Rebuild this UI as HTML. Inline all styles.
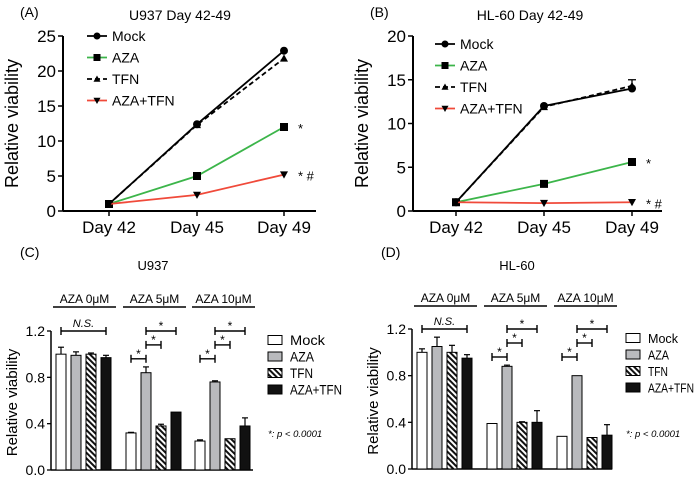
<!DOCTYPE html>
<html><head><meta charset="utf-8"><style>
html,body{margin:0;padding:0;background:#fff;}
svg{display:block;font-family:"Liberation Sans",Arial,sans-serif;}
</style></head><body>
<svg id="fig" width="700" height="481" viewBox="0 0 700 481">
<defs>
<pattern id="hatch" width="4" height="4" patternUnits="userSpaceOnUse" patternTransform="rotate(-45)">
<rect width="4" height="4" fill="#fff"/><rect width="2" height="4" fill="#111"/>
</pattern>
</defs>
</svg>
<script>
// ===== Panel A/B data =====
const dayLabels = ["Day 42","Day 45","Day 49"];
const aMock = [1, 12.4, 22.9];
const aAZA = [1, 5.0, 12.0];
const aTFN = [1, 12.3, 21.8];
const aCombo = [1, 2.3, 5.2];
const aTicks = [0,5,10,15,20,25];
const bMock = [1, 12.0, 14.0];
const bAZA = [1, 3.1, 5.6];
const bTFN = [1, 11.9, 14.3];
const bCombo = [1, 0.9, 1.0];
const bTFNerr = [0, 0, 0.7];
const bTicks = [0,5,10,15,20];
// ===== Panel C/D data =====
const groupLabels = ["AZA 0μM","AZA 5μM","AZA 10μM"];
const seriesNames = ["Mock","AZA","TFN","AZA+TFN"];
const cVals = [[1.0,0.99,1.0,0.97],[0.32,0.84,0.38,0.50],[0.25,0.76,0.27,0.38]];
const cErr  = [[0.06,0.03,0.01,0.02],[0.005,0.05,0.015,0.0],[0.01,0.01,0.0,0.07]];
const dVals = [[1.0,1.05,1.0,0.95],[0.39,0.88,0.40,0.40],[0.28,0.80,0.27,0.29]];
const dErr  = [[0.03,0.08,0.06,0.03],[0.0,0.01,0.005,0.10],[0.0,0.0,0.0,0.09]];
const barTicks = [0.0,0.4,0.8,1.2];

const NS="http://www.w3.org/2000/svg";
const svg=document.getElementById('fig');
function el(tag,attrs,parent,txt){const e=document.createElementNS(NS,tag);for(const k in attrs)e.setAttribute(k,attrs[k]);if(txt!==undefined)e.textContent=txt;(parent||svg).appendChild(e);return e;}

function linePanel(o){
  const g=el('g',{});
  
  
  const y=v=>o.y0-(v/o.ymax)*(o.y0-o.y1);
  const xp=[o.xs[0],o.xs[1],o.xs[2]];
  el('text',{x:o.ax-43,y:17,'font-size':14},g,o.letter);
  el('text',{x:o.tx,y:20,'font-size':14,'text-anchor':'middle'},g,o.title);
  el('line',{x1:o.ax,y1:o.y1,x2:o.ax,y2:o.y0,stroke:'#000','stroke-width':2},g);
  el('line',{x1:o.ax,y1:o.y0,x2:o.xend,y2:o.y0,stroke:'#000','stroke-width':2},g);
  o.ticks.forEach(t=>{el('line',{x1:o.ax-5,y1:y(t),x2:o.ax,y2:y(t),stroke:'#000','stroke-width':1.5},g);
    const tl=el('text',{x:o.ax-7,y:y(t)+6,'font-size':17,'text-anchor':'end'},g,t);});
  dayLabels.forEach((d,i)=>{el('line',{x1:xp[i],y1:o.y0,x2:xp[i],y2:o.y0+5,stroke:'#000','stroke-width':1.5},g);
    const t=el('text',{x:xp[i],y:o.y0+22,'font-size':17,'text-anchor':'middle'},g,d);});
  const yt=el('text',{x:0,y:0,'font-size':18,'text-anchor':'middle',transform:`translate(${o.ax-45},${(o.y0+o.y1)/2}) rotate(-90)`},g,'Relative viability');
  
  const series=[[o.mock,'#000','none','circle'],[o.aza,'#3cb54a','none','square'],[o.tfn,'#000','5,3','tri'],[o.combo,'#f04a3a','none','tridown']];
  series.forEach((s,si)=>{
    const pts=s[0].map((v,i)=>xp[i]+','+y(v)).join(' ');
    const pl=el('polyline',{points:pts,fill:'none',stroke:s[1],'stroke-width':1.8,'stroke-dasharray':s[2]},g);
    
    s[0].forEach((v,i)=>marker(g,s[3],xp[i],y(v),4));
    const ly=o.ly+si*21.5;
    el('line',{x1:o.lx,y1:ly,x2:o.lx+20,y2:ly,stroke:s[1],'stroke-width':1.8,'stroke-dasharray':s[2]},g);
    marker(g,s[3],o.lx+10,ly,3.5);
    const lt=el('text',{x:o.lx+25,y:ly+5,'font-size':14},g,seriesNames[si]);
  });
  if(o.tfnErr){o.tfn.forEach((v,i)=>{if(o.tfnErr[i]>0){el('line',{x1:xp[i],y1:y(v),x2:xp[i],y2:y(v+o.tfnErr[i]),stroke:'#000','stroke-width':1.3},g);el('line',{x1:xp[i]-4,y1:y(v+o.tfnErr[i]),x2:xp[i]+4,y2:y(v+o.tfnErr[i]),stroke:'#000','stroke-width':1.3},g);}});}
  el('text',{x:xp[2]+14,y:y(o.aza[2])+6,'font-size':13},g,'*');
  el('text',{x:xp[2]+14,y:y(o.combo[2])+6,'font-size':13},g,'*  #');
}
function marker(g,type,cx,cy,r){
  if(type==='circle')el('circle',{cx,cy,r,fill:'#000'},g);
  else if(type==='square')el('rect',{x:cx-r,y:cy-r,width:2*r,height:2*r,fill:'#000'},g);
  else if(type==='tri')el('polygon',{points:`${cx},${cy-r} ${cx-r},${cy+r*0.8} ${cx+r},${cy+r*0.8}`,fill:'#000'},g);
  else el('polygon',{points:`${cx},${cy+r} ${cx-r},${cy-r*0.8} ${cx+r},${cy-r*0.8}`,fill:'#000'},g);
}
linePanel({name:'panel-a',letter:'(A)',title:'U937 Day 42-49',tx:180,ax:63,y0:211,y1:36,ymax:25,xs:[109,197,284],xend:316,ticks:aTicks,mock:aMock,aza:aAZA,tfn:aTFN,combo:aCombo,lx:87,ly:36});
linePanel({name:'panel-b',letter:'(B)',title:'HL-60 Day 42-49',tx:530,ax:413,y0:211,y1:36,ymax:20,xs:[456,544,632],xend:662,ticks:bTicks,mock:bMock,aza:bAZA,tfn:bTFN,combo:bCombo,tfnErr:bTFNerr,lx:435,ly:44});

function barPanel(o){
  const g=el('g',{});
  
  
  const y=v=>o.y0-(v/1.2)*(o.y0-o.y1);
  el('text',{x:o.ax-31,y:257,'font-size':14},g,o.letter);
  el('text',{x:o.tx,y:270,'font-size':13,'text-anchor':'middle'},g,o.title);
  el('line',{x1:o.ax,y1:o.y1,x2:o.ax,y2:o.y0,stroke:'#000','stroke-width':1.5},g);
  el('line',{x1:o.ax,y1:o.y0,x2:o.xend,y2:o.y0,stroke:'#000','stroke-width':1.5},g);
  barTicks.forEach(t=>{el('line',{x1:o.ax-4,y1:y(t),x2:o.ax,y2:y(t),stroke:'#000','stroke-width':1.3},g);
    const tl=el('text',{x:o.ax-6,y:y(t)+5,'font-size':14,'text-anchor':'end'},g,t.toFixed(1));});
  const yt=el('text',{x:0,y:0,'font-size':15,'text-anchor':'middle',transform:`translate(${o.ax-34},${(o.y0+o.y1)/2+2}) rotate(-90)`},g,'Relative viability');
  
  const fills=['#fff','#b9babd','url(#hatch)','#111'];
  const bw=10, pitch=15;
  const cx=(gi,si)=>o.gx[gi]+si*pitch+bw/2;
  o.vals.forEach((grp,gi)=>{
    grp.forEach((v,si)=>{
      const e=o.err[gi][si];
      if(e>0){el('line',{x1:cx(gi,si),y1:y(v),x2:cx(gi,si),y2:y(v+e),stroke:'#000','stroke-width':1.2},g);
        el('line',{x1:cx(gi,si)-3,y1:y(v+e),x2:cx(gi,si)+3,y2:y(v+e),stroke:'#000','stroke-width':1.2},g);}
      const r=el('rect',{x:o.gx[gi]+si*pitch,y:y(v),width:bw,height:o.y0-y(v),fill:fills[si],stroke:'#000','stroke-width':1},g);
      
    });
    const hx1=o.gx[gi]-3, hx2=o.gx[gi]+3*pitch+bw+5;
    const ht=el('text',{x:(hx1+hx2)/2,y:o.hy-4,'font-size':12,'text-anchor':'middle'},g,groupLabels[gi]);
    el('line',{x1:hx1,y1:o.hy,x2:hx2,y2:o.hy,stroke:'#000','stroke-width':1.5},g);
    if(gi===0){bracket(g,cx(0,0),cx(0,3),y(1.2),'N.S.',true);}
    else{bracket(g,cx(gi,0),cx(gi,1),y(0.96),'*');bracket(g,cx(gi,1),cx(gi,2),y(1.08),'*');bracket(g,cx(gi,1),cx(gi,3),y(1.2),'*');}
  });
  seriesNames.forEach((n,si)=>{const ly=o.ly+si*16.5;
    el('rect',{x:o.lx,y:ly-4.5,width:14,height:9,fill:fills[si],stroke:'#000','stroke-width':1},g);
    const t=el('text',{x:o.lx+22,y:ly+5,'font-size':o.lfs,textLength:o.llen[si],lengthAdjust:'spacingAndGlyphs'},g,n);});
  const pn=el('text',{x:o.lx,y:437,'font-size':9.5,'font-style':'italic'},g,'*: p < 0.0001');
}
function bracket(g,x1,x2,yy,label,ital){
  el('line',{x1,y1:yy,x2,y2:yy,stroke:'#000','stroke-width':1.4},g);
  el('line',{x1,y1:yy-4,x2:x1,y2:yy+4,stroke:'#000','stroke-width':1.4},g);
  el('line',{x1:x2,y1:yy-4,x2,y2:yy+4,stroke:'#000','stroke-width':1.4},g);
  const t=el('text',{x:(x1+x2)/2,y:ital?yy-4:yy-1,'font-size':ital?11:12,'text-anchor':'middle','font-style':ital?'italic':'normal'},g,label);
  
}
barPanel({name:'panel-c',letter:'(C)',title:'U937',tx:153,ax:51,y0:470,y1:331,xend:253,gx:[56,126,195],vals:cVals,err:cErr,hy:307,lx:268,ly:340,lfs:14,llen:[35,24,23,52]});
barPanel({name:'panel-d',letter:'(D)',title:'HL-60',tx:517,ax:412,y0:469,y1:329,xend:612,gx:[417,487,557],vals:dVals,err:dErr,hy:306,lx:626,ly:338,lfs:12.5,llen:[30,21,20,46]});
</script>
</body></html>
